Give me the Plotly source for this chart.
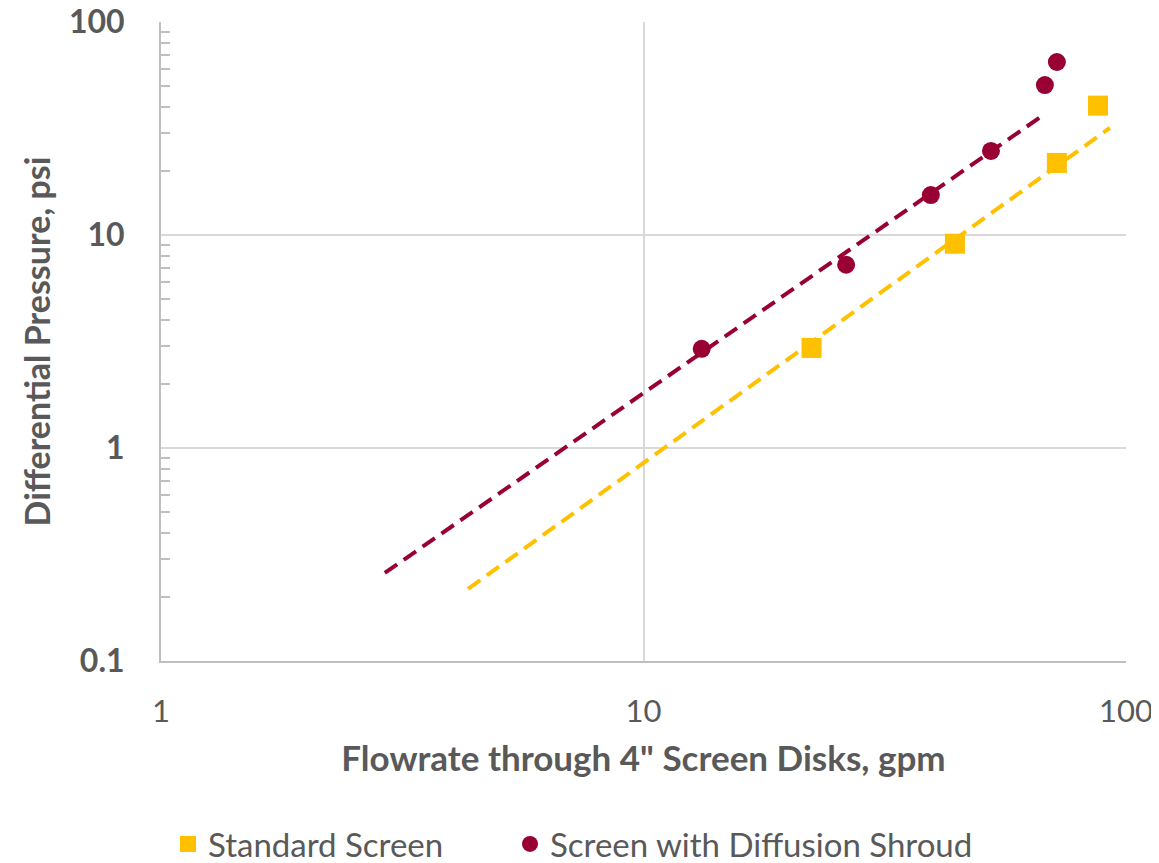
import plotly.graph_objects as go

# Data
std_flow = [22.3, 44.2, 71.9, 87.5]
std_dp = [2.95, 9.1, 21.8, 40.5]
shroud_flow = [13.2, 26.3, 39.4, 52.5, 67.9, 71.9]
shroud_dp = [2.92, 7.25, 15.4, 24.8, 50.6, 64.9]

# Power trendlines (endpoints)
std_trend_x = [4.33, 92.6]
std_trend_y = [0.218, 31.8]
shroud_trend_x = [2.91, 67.9]
shroud_trend_y = [0.259, 37.0]

x_ticks = [1, 10, 100]
x_tick_text = ["1", "10", "100"]
y_ticks = [0.1, 1, 10, 100]
y_tick_text = ["0.1", "1", "10", "100"]
y_minor = [m * 10 ** e for e in (-1, 0, 1) for m in range(2, 10)]

GOLD = "#FFC000"
RED = "#990033"
GREY = "#595959"
FONT = "Lato"

W, H = 1151, 855

fig = go.Figure()
fig.add_trace(go.Scatter(x=std_trend_x, y=std_trend_y, mode="lines",
                         line=dict(color=GOLD, width=4, dash="15px,8px"),
                         showlegend=False, hoverinfo="skip"))
fig.add_trace(go.Scatter(x=shroud_trend_x, y=shroud_trend_y, mode="lines",
                         line=dict(color=RED, width=4, dash="15px,8px"),
                         showlegend=False, hoverinfo="skip"))
fig.add_trace(go.Scatter(x=std_flow, y=std_dp, mode="markers", name="Standard Screen",
                         marker=dict(symbol="square", size=20, color=GOLD),
                         legend="legend"))
fig.add_trace(go.Scatter(x=shroud_flow, y=shroud_dp, mode="markers",
                         name="Screen with Diffusion Shroud",
                         marker=dict(symbol="circle", size=18, color=RED),
                         legend="legend2"))

legend_common = dict(orientation="h", xanchor="left", xref="container",
                     y=19 / H, yanchor="middle", yref="container",
                     font=dict(size=33, color=GREY), itemsizing="trace",
                     bgcolor="rgba(0,0,0,0)")

fig.update_layout(
    width=W, height=H,
    margin=dict(l=153, r=33, t=14, b=202),
    paper_bgcolor="white", plot_bgcolor="white",
    font=dict(family=FONT, color=GREY),
    legend=dict(x=160 / W, **legend_common),
    legend2=dict(x=502 / W, **legend_common),
)
fig.update_xaxes(type="log", range=[0, 2], tickvals=x_ticks, ticktext=x_tick_text,
                 tickfont=dict(size=31, color=GREY, family=FONT),
                 showgrid=True, gridcolor="#D9D9D9", gridwidth=1.5,
                 showline=True, linecolor="#BFBFBF", linewidth=2,
                 ticks="", ticklabelstandoff=22, automargin=False,
                 ticklabeloverflow="allow",
                 title=dict(text="<b>Flowrate through 4\" Screen Disks, gpm</b>",
                            font=dict(size=35, color=GREY, family=FONT), standoff=18),
                 zeroline=False, mirror=False)
fig.update_yaxes(type="log", range=[-1, 2], tickvals=y_ticks, ticktext=y_tick_text,
                 tickfont=dict(size=32, color=GREY, family=FONT, weight="bold"),
                 showgrid=True, gridcolor="#D9D9D9", gridwidth=1.5,
                 showline=True, linecolor="#BFBFBF", linewidth=2,
                 ticks="", ticklabelstandoff=28, automargin=False,
                 ticklabeloverflow="allow",
                 minor=dict(tickmode="array", tickvals=y_minor, ticks="inside",
                            ticklen=9, tickcolor="#BFBFBF", tickwidth=1.5, showgrid=False),
                 title=dict(text="<b>Differential Pressure, psi</b>",
                            font=dict(size=34, color=GREY, family=FONT), standoff=8),
                 zeroline=False)

fig.write_html("out.html")
